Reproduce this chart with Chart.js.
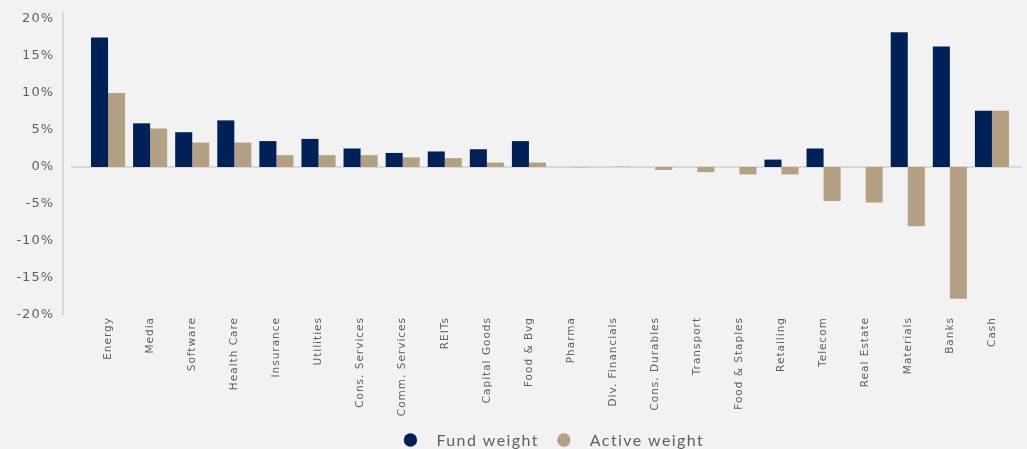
<!DOCTYPE html>
<html>
<head>
<meta charset="utf-8">
<script src="https://cdn.jsdelivr.net/npm/chart.js@4/dist/chart.umd.min.js"></script>
<style>
  html, body { margin: 0; padding: 0; background: #f2f2f2; }
  #wrap { width: 1027px; height: 449px; }
</style>
</head>
<body>
<div id="wrap"><canvas id="chart" width="1027" height="449"></canvas></div>
<script>
const sectors = ['Energy', 'Media', 'Software', 'Health Care', 'Insurance', 'Utilities',
  'Cons. Services', 'Comm. Services', 'REITs', 'Capital Goods', 'Food & Bvg', 'Pharma',
  'Div. Financials', 'Cons. Durables', 'Transport', 'Food & Staples', 'Retailing',
  'Telecom', 'Real Estate', 'Materials', 'Banks', 'Cash'];
const fundWeight = [17.5, 5.9, 4.7, 6.3, 3.5, 3.8, 2.5, 1.9, 2.1, 2.4, 3.5, 0, 0, 0, 0, 0, 1.0, 2.5, 0, 18.2, 16.3, 7.6];
const activeWeight = [10.0, 5.2, 3.3, 3.3, 1.6, 1.6, 1.6, 1.3, 1.2, 0.6, 0.6, -0.05, 0.05, -0.4, -0.7, -1.0, -1.0, -4.6, -4.8, -8.0, -17.8, 7.6];
const yTicks = [-20, -15, -10, -5, 0, 5, 10, 15, 20];

const NAVY = '#002157';
const TAN = '#b4a083';
const TEXT = '#5f5f5f';

// the original uses tracked-out lettering on the axis labels
const tracking = {
  id: 'tracking',
  afterLayout(chart) {
    [['x', '1px'], ['y', '1px']].forEach(([id, sp]) => {
      const s = chart.scales[id];
      if (s._tracked) return;
      const orig = s.drawLabels.bind(s);
      s.drawLabels = function (area) {
        chart.ctx.save();
        chart.ctx.letterSpacing = sp;
        orig(area);
        chart.ctx.restore();
      };
      s._tracked = true;
    });
  }
};

// axis line and zero line, drawn a bit outside the bar area like the original
const axisLines = {
  id: 'axisLines',
  beforeDatasetsDraw(chart) {
    const ctx = chart.ctx;
    const y = chart.scales.y;
    const zero = y.getPixelForValue(0);
    ctx.save();
    ctx.strokeStyle = '#d9d9d9';
    ctx.lineWidth = 2;
    ctx.beginPath();
    ctx.moveTo(63, 12);
    ctx.lineTo(63, y.getPixelForValue(-20));
    ctx.moveTo(71, zero);
    ctx.lineTo(1022, zero);
    ctx.stroke();
    ctx.restore();
  }
};

// legend: round markers, centred under the plot
const dotLegend = {
  id: 'dotLegend',
  afterDraw(chart) {
    const ctx = chart.ctx;
    const area = chart.chartArea;
    const y = 440;
    ctx.save();
    ctx.font = '16px Lato';
    ctx.letterSpacing = '1.4px';
    ctx.textBaseline = 'middle';
    ctx.textAlign = 'left';
    const items = chart.data.datasets.map(ds => ({
      text: ds.label, color: ds.backgroundColor, w: ctx.measureText(ds.label).width
    }));
    const total = items.reduce((s, it) => s + 6.5 + 26 + it.w, 0) + 25 * (items.length - 1) - 6.5;
    let x = (area.left + area.right) / 2 + 4 - total / 2 + 6.5;
    items.forEach(it => {
      ctx.fillStyle = it.color;
      ctx.beginPath();
      ctx.arc(x, y, 6.7, 0, Math.PI * 2);
      ctx.fill();
      ctx.fillStyle = TEXT;
      ctx.fillText(it.text, x + 26, y + 1);
      x += 26 + it.w + 25;
    });
    ctx.restore();
  }
};

new Chart(document.getElementById('chart'), {
  type: 'bar',
  data: {
    labels: sectors,
    datasets: [
      { label: 'Fund weight', data: fundWeight, backgroundColor: NAVY },
      { label: 'Active weight', data: activeWeight, backgroundColor: TAN }
    ]
  },
  options: {
    responsive: false,
    animation: false,
    layout: { padding: { top: 19, right: 14, left: 0, bottom: 20 } },
    datasets: { bar: { categoryPercentage: 0.81, barPercentage: 1.0 } },
    scales: {
      x: {
        grid: { display: false, drawTicks: false },
        border: { display: false },
        ticks: {
          color: TEXT,
          font: { family: 'DejaVu Sans', size: 10.5 },
          minRotation: 90,
          maxRotation: 90,
          autoSkip: false,
          padding: 2
        },
        afterFit(scale) { scale.height = 114; }
      },
      y: {
        min: -20,
        max: 20,
        afterBuildTicks(scale) { scale.ticks = yTicks.map(v => ({ value: v })); },
        grid: { display: false, drawTicks: false },
        border: { display: false },
        ticks: {
          color: TEXT,
          font: { family: 'DejaVu Sans', size: 13 },
          padding: 33,
          callback: v => v + '%'
        },
        afterFit(scale) {
          scale.width = 87;
          scale.paddingTop = 0;
          scale.paddingBottom = 0;
        }
      }
    },
    plugins: {
      legend: { display: false },
      tooltip: { enabled: false }
    }
  },
  plugins: [tracking, axisLines, dotLegend]
});
</script>
</body>
</html>
